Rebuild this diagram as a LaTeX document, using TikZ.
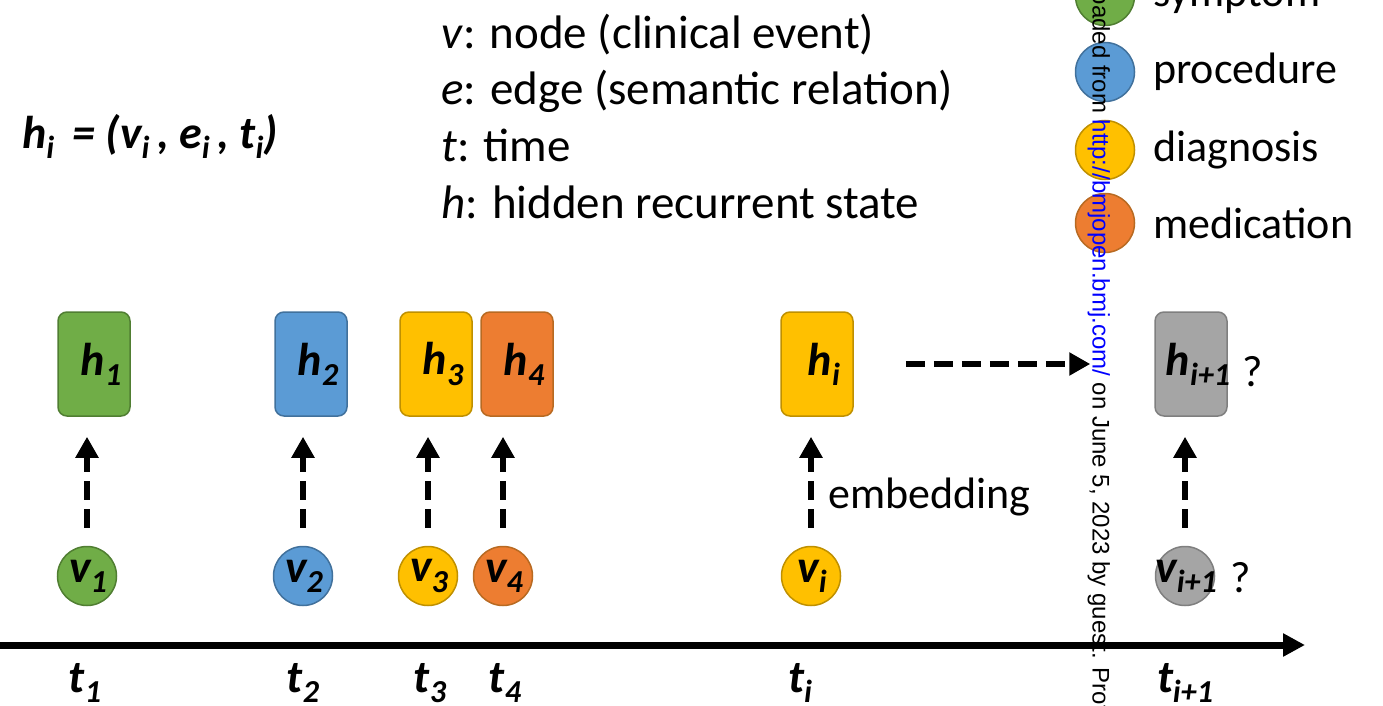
\documentclass[tikz,border=0pt]{standalone}
\usepackage{fontspec}
\setmainfont{Carlito}
\newfontfamily\wmfont{Liberation Sans}
\usetikzlibrary{arrows.meta}
\definecolor{sympfill}{HTML}{70AD47}
\definecolor{sympline}{HTML}{507E32}
\definecolor{procfill}{HTML}{5B9BD5}
\definecolor{procline}{HTML}{41719C}
\definecolor{diagfill}{HTML}{FFC000}
\definecolor{diagline}{HTML}{BF9000}
\definecolor{medifill}{HTML}{ED7D31}
\definecolor{mediline}{HTML}{B86A22}
\definecolor{unknfill}{HTML}{A5A5A5}
\definecolor{unknline}{HTML}{7F7F7F}
\newcommand{\lblfont}{\fontsize{46}{52}\selectfont\bfseries\itshape}
\newcommand{\txtfont}{\fontsize{44}{50}\selectfont}
\newcommand{\sbs}[1]{\raisebox{-0.22em}{\fontsize{32}{32}\selectfont #1}}

\begin{document}
\begin{tikzpicture}[x=1pt,y=-1pt,
    hbox/.style={draw,rounded corners=9pt,minimum width=72pt,minimum height=104pt,line width=1.5pt},
    vdot/.style={circle,draw,minimum size=59pt,inner sep=0pt,line width=1.5pt},
    emb/.style={line width=6.5pt,dash pattern=on 19pt off 9pt,-{Triangle[width=22pt,length=21pt]}},
    axis/.style={line width=7pt,-{Triangle[width=22pt,length=22pt]}},
    symp/.style={fill=sympfill,draw=sympline},
    proc/.style={fill=procfill,draw=procline},
    diag/.style={fill=diagfill,draw=diagline},
    medi/.style={fill=medifill,draw=mediline},
    unkn/.style={fill=unknfill,draw=unknline}]
    \useasboundingbox (0,0) rectangle (1383,706);
    \clip (0,0) rectangle (1383,706);

    % definitions
    \node[font=\lblfont,anchor=base west,inner sep=0] (form) at (22,148)
        {h\sbs{i}\, = (v\sbs{i}\,, e\sbs{i}\,, t\sbs{i})};
    \foreach \y/\txt [count=\k] in {49/{\textit{v}: node (clinical event)},
                                    105/{\textit{e}: edge (semantic relation)},
                                    161/{\textit{t}: time},
                                    218/{\textit{h}: hidden recurrent state}} {
        \node[font=\fontsize{47}{52}\selectfont,anchor=base west,inner sep=0] (def\k) at (441,\y) {\txt};
    }

    % legend
    \foreach \y/\cat/\txt [count=\k] in {-4/symp/symptom,72/proc/procedure,150/diag/diagnosis,223/medi/medication} {
        \node[vdot,\cat] (key\k) at (1105,\y) {};
        \node[font=\txtfont,anchor=west,inner sep=0] (keylbl\k) at (1153,\y) {\txt};
    }

    % time axis
    \coordinate (axL) at (0,645);
    \coordinate (axR) at (1305,645);
    \draw[axis] (axL) -- (axR);

    % events
    \foreach \n/\hx/\vx/\tx/\cat/\sb in {1/94/87/85/symp/1,2/311/303/303/proc/2,3/436/428/430/diag/3,
                                        4/517/503/505/medi/4,i/817/811/800/diag/i,ip/1191/1185/1185/unkn/i+1} {
        \node[hbox,\cat,label={[font=\lblfont,xshift=7pt]center:h\sbs{\sb}}] (h\n) at (\hx,364) {};
        \node[vdot,\cat,label={[font=\lblfont,xshift=1pt]center:v\sbs{\sb}}] (v\n) at (\vx,576) {};
        \node[font=\lblfont] (t\n) at (\tx,683) {t\sbs{\sb}};
        \draw[emb,shorten <=18pt,shorten >=20pt] (v\n.north) -- (v\n.north |- h\n.south);
    }

    \draw[emb,shorten <=52pt,shorten >=64pt] (hi.east) -- (hip.west);
    \node[font=\txtfont,anchor=base west,inner sep=0] (emlbl) at (828,508) {embedding};
    \node[font=\txtfont] (q1) at (1253,372) {?};
    \node[font=\txtfont] (q2) at (1241,578) {?};

    % watermark
    \node[font=\wmfont\fontsize{24}{24}\selectfont,rotate=-90,anchor=mid west,inner sep=0] (wm) at (1095,-75)
        {Downloaded from \textcolor{blue}{http://bmjopen.bmj.com/} on June 5, 2023 by guest. Protected by copyright.};
\end{tikzpicture}
\end{document}
